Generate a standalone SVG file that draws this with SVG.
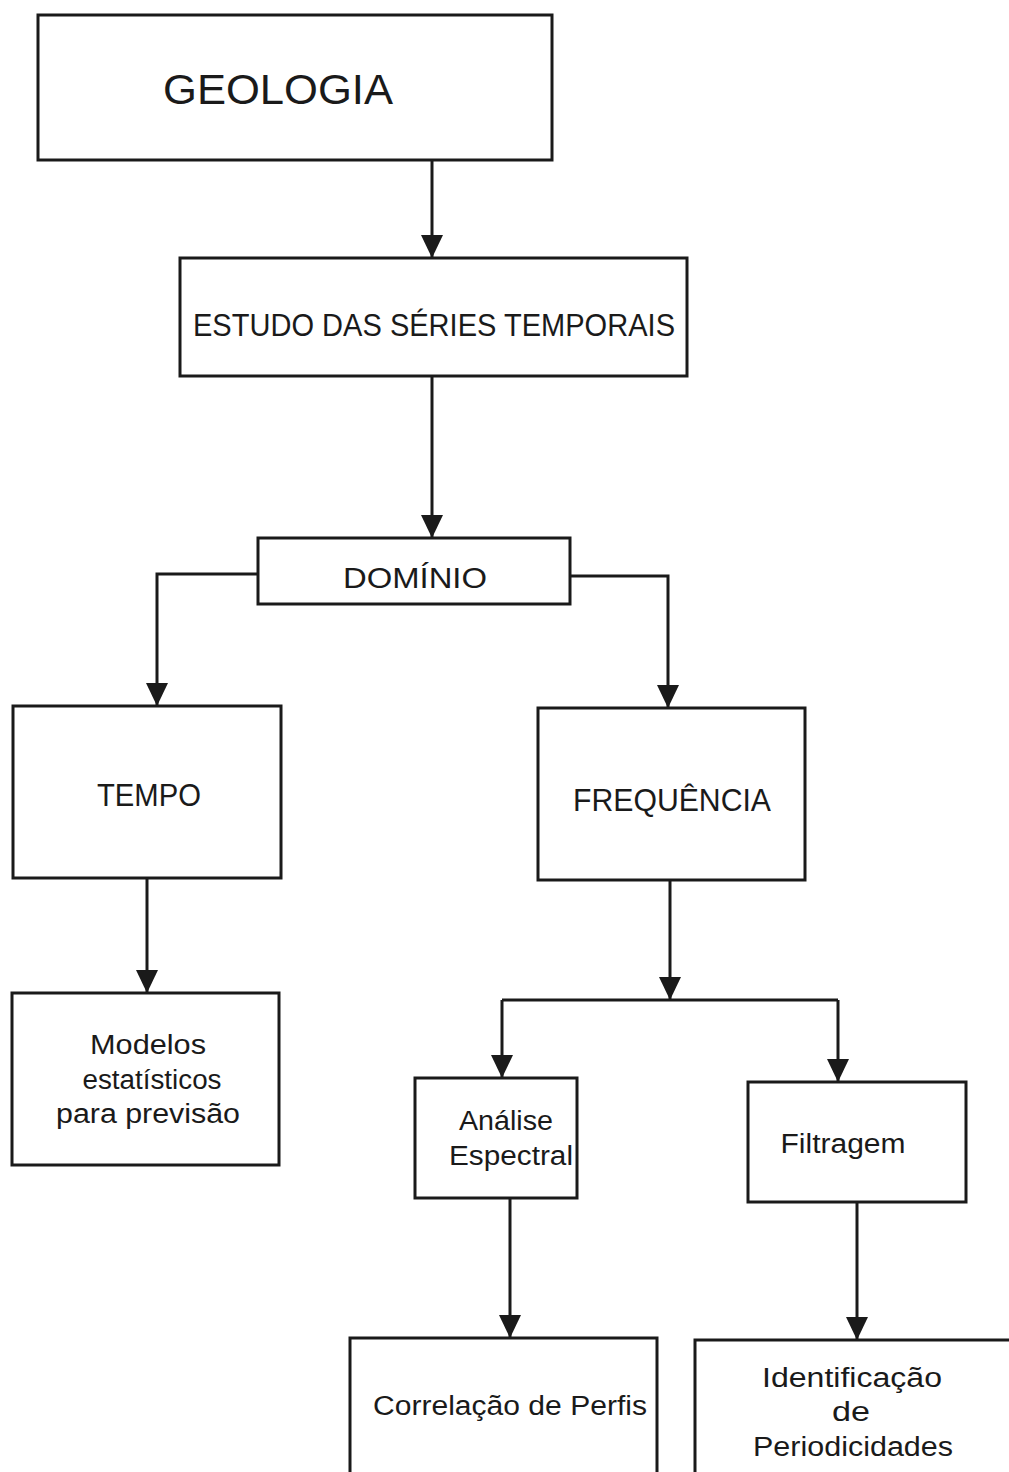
<svg xmlns="http://www.w3.org/2000/svg" width="1009" height="1472" viewBox="0 0 1009 1472">
<style>
.box{fill:#fff;stroke:#1a1a1a;stroke-width:3}
.ln{fill:none;stroke:#1a1a1a;stroke-width:3;marker-end:url(#ah)}
.ln2{fill:none;stroke:#1a1a1a;stroke-width:3}
text{font-family:"Liberation Sans","DejaVu Sans",sans-serif;fill:#1a1a1a;text-anchor:middle}
</style>
<defs>
<marker id="ah" markerUnits="userSpaceOnUse" markerWidth="24" markerHeight="24" viewBox="0 0 24 24" refX="23" refY="12" orient="auto">
<path d="M0,1 L23,12 L0,23 z" fill="#1a1a1a"/>
</marker>
</defs>
<rect width="1009" height="1472" fill="#fff"/>
<g id="connectors">
<path class="ln" d="M432,160 V258"/>
<path class="ln" d="M432,376 V538"/>
<path class="ln" d="M258,574 H157 V706"/>
<path class="ln" d="M570,576 H668 V708"/>
<path class="ln" d="M147,878 V993"/>
<path class="ln" d="M670,880 V1000"/>
<path class="ln2" d="M502,1000 H838"/>
<path class="ln" d="M502,1000 V1078"/>
<path class="ln" d="M838,1000 V1082"/>
<path class="ln" d="M510,1198 V1338"/>
<path class="ln" d="M857,1202 V1340"/>
</g>
<g id="geologia">
<rect class="box" x="38" y="15" width="514" height="145"/>
<text x="278" y="104" font-size="42" textLength="230" lengthAdjust="spacingAndGlyphs">GEOLOGIA</text>
</g>
<g id="estudo">
<rect class="box" x="180" y="258" width="507" height="118"/>
<text x="434" y="336" font-size="32" textLength="482" lengthAdjust="spacingAndGlyphs">ESTUDO DAS SÉRIES TEMPORAIS</text>
</g>
<g id="dominio">
<rect class="box" x="258" y="538" width="312" height="66"/>
<text x="415" y="588" font-size="30" textLength="144" lengthAdjust="spacingAndGlyphs">DOMÍNIO</text>
</g>
<g id="tempo">
<rect class="box" x="13" y="706" width="268" height="172"/>
<text x="149" y="806" font-size="31" textLength="104" lengthAdjust="spacingAndGlyphs">TEMPO</text>
</g>
<g id="frequencia">
<rect class="box" x="538" y="708" width="267" height="172"/>
<text x="672" y="811" font-size="31" textLength="198" lengthAdjust="spacingAndGlyphs">FREQUÊNCIA</text>
</g>
<g id="modelos">
<rect class="box" x="12" y="993" width="267" height="172"/>
<text x="148" y="1054" font-size="27" textLength="116" lengthAdjust="spacingAndGlyphs">Modelos</text>
<text x="152" y="1089" font-size="27" textLength="139" lengthAdjust="spacingAndGlyphs">estatísticos</text>
<text x="148" y="1123" font-size="27" textLength="184" lengthAdjust="spacingAndGlyphs">para previsão</text>
</g>
<g id="analise">
<rect class="box" x="415" y="1078" width="162" height="120"/>
<text x="506" y="1130" font-size="27" textLength="94" lengthAdjust="spacingAndGlyphs">Análise</text>
<text x="511" y="1165" font-size="27" textLength="124" lengthAdjust="spacingAndGlyphs">Espectral</text>
</g>
<g id="filtragem">
<rect class="box" x="748" y="1082" width="218" height="120"/>
<text x="843" y="1153" font-size="27" textLength="125" lengthAdjust="spacingAndGlyphs">Filtragem</text>
</g>
<g id="correlacao">
<path class="ln2" d="M350,1480 V1338 H657 V1480"/>
<text x="510" y="1415" font-size="27" textLength="274" lengthAdjust="spacingAndGlyphs">Correlação de Perfis</text>
</g>
<g id="identificacao">
<path class="ln2" d="M695,1480 V1340 H1012"/>
<text x="852" y="1387" font-size="27" textLength="180" lengthAdjust="spacingAndGlyphs">Identificação</text>
<text x="851" y="1421" font-size="27" textLength="38" lengthAdjust="spacingAndGlyphs">de</text>
<text x="853" y="1456" font-size="27" textLength="200" lengthAdjust="spacingAndGlyphs">Periodicidades</text>
</g>
</svg>
